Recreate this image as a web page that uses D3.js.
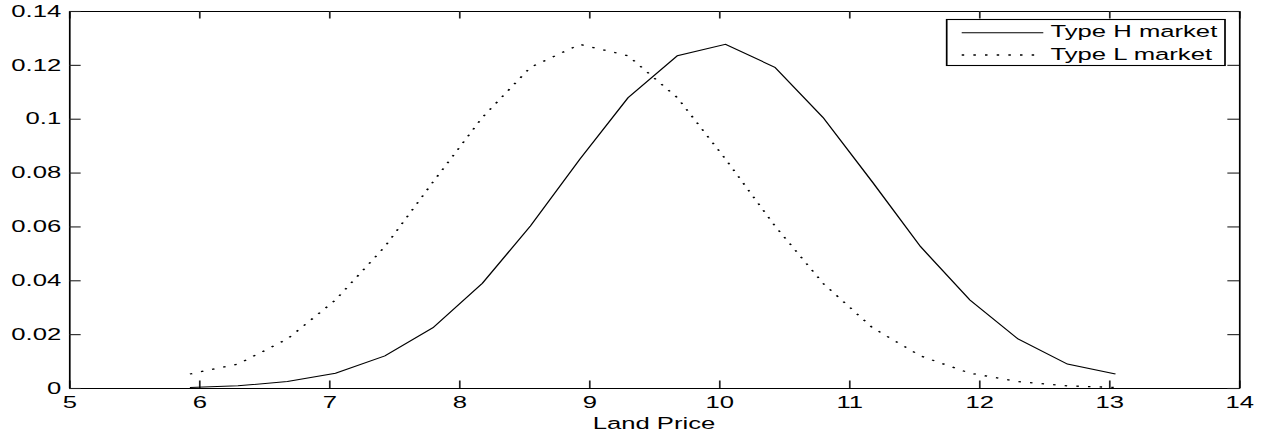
<!DOCTYPE html>
<html>
<head>
<meta charset="utf-8">
<script src="https://cdn.jsdelivr.net/npm/d3@7"></script>
<style>
  html, body { margin: 0; padding: 0; background: #fff; }
  svg { display: block; }
  text { font-family: "Liberation Sans", Arial, Helvetica, sans-serif; }
</style>
</head>
<body>
<svg id="chart" width="1263" height="432"></svg>
<script>
// ---- data ----
const landPrice = [5.93, 6.30, 6.68, 7.05, 7.43, 7.80, 8.18, 8.55, 8.93, 9.30,
                   9.68, 10.05, 10.43, 10.80, 11.18, 11.55, 11.93, 12.30, 12.68, 13.05];
const typeH = [0.0002, 0.0008, 0.0024, 0.0055, 0.0119, 0.0224, 0.0389, 0.0602, 0.0850, 0.1078,
               0.1234, 0.1276, 0.1191, 0.1005, 0.0765, 0.0525, 0.0327, 0.0182, 0.0089, 0.0052];
const typeL = [0.0052, 0.0089, 0.0182, 0.0327, 0.0525, 0.0765, 0.1005, 0.1191, 0.1276, 0.1234,
               0.1078, 0.0850, 0.0602, 0.0389, 0.0224, 0.0119, 0.0055, 0.0024, 0.0008, 0.0002];
const seriesNames = ["Type H market", "Type L market"];
const xTickValues = [5, 6, 7, 8, 9, 10, 11, 12, 13, 14];
const xTickLabels = ["5", "6", "7", "8", "9", "10", "11", "12", "13", "14"];
const yTickValues = [0, 0.02, 0.04, 0.06, 0.08, 0.1, 0.12, 0.14];
const yTickLabels = ["0", "0.02", "0.04", "0.06", "0.08", "0.1", "0.12", "0.14"];
const xLabel = "Land Price";

(function () {
// ---- layout (reference is horizontally stretched; draw in unstretched space) ----
const S = 1.555;               // horizontal stretch factor
const pLeft = 69 / S, pRight = 1239 / S, pTop = 11, pBottom = 388;
const tick = 7.5;
const FS = 16.5;
const dots = "1.6 5.9";

const svg = d3.select("#chart");
const g = svg.append("g").attr("transform", `scale(${S},1)`);

const x = d3.scaleLinear().domain([5, 14]).range([pLeft, pRight]);
const y = d3.scaleLinear().domain([0, 0.14]).range([pBottom, pTop]);

const fmtX = v => xTickLabels[xTickValues.indexOf(v)];
const fmtY = v => yTickLabels[yTickValues.indexOf(v)];

function styleAxis(sel) {
  sel.select(".domain").attr("stroke", "#000").attr("stroke-width", 1.1).attr("fill", "none");
  sel.selectAll(".tick line").attr("stroke", "#222").attr("stroke-width", 1.1);
  sel.selectAll("text").attr("fill", "#000").attr("font-size", FS)
     .attr("font-family", '"Liberation Sans", Arial, sans-serif');
}

g.append("g").attr("transform", `translate(0,${pBottom})`)
  .call(d3.axisBottom(x).tickValues(xTickValues).tickFormat(fmtX)
        .tickSizeInner(-tick).tickSizeOuter(0).tickPadding(8.5))
  .call(styleAxis);
g.append("g").attr("transform", `translate(0,${pTop})`)
  .call(d3.axisTop(x).tickValues(xTickValues).tickFormat("")
        .tickSizeInner(-tick).tickSizeOuter(0))
  .call(styleAxis);
g.append("g").attr("transform", `translate(${pLeft},0)`)
  .call(d3.axisLeft(y).tickValues(yTickValues).tickFormat(fmtY)
        .tickSizeInner(-tick).tickSizeOuter(0).tickPadding(5))
  .call(styleAxis);
g.append("g").attr("transform", `translate(${pRight},0)`)
  .call(d3.axisRight(y).tickValues(yTickValues).tickFormat("")
        .tickSizeInner(-tick).tickSizeOuter(0))
  .call(styleAxis);

// x label
g.append("text")
  .attr("x", (pLeft + pRight) / 2).attr("y", 429.5)
  .attr("text-anchor", "middle").attr("font-size", FS).attr("fill", "#000")
  .text(xLabel);

// lines
const line = d3.line().x(d => x(d[0])).y(d => y(d[1]));
const dH = landPrice.map((v, i) => [v, typeH[i]]);
const dL = landPrice.map((v, i) => [v, typeL[i]]);

g.append("path").datum(dH).attr("d", line)
  .attr("fill", "none").attr("stroke", "#000").attr("stroke-width", 1);
g.append("path").datum(dL).attr("d", line)
  .attr("fill", "none").attr("stroke", "#000").attr("stroke-width", 1.3)
  .attr("stroke-dasharray", dots);

// legend
const lgX0 = 946.7 / S, lgX1 = 1225 / S, lgY0 = 19.5, lgY1 = 65.5;
const leg = g.append("g");
leg.append("rect").attr("x", lgX0).attr("y", lgY0)
  .attr("width", lgX1 - lgX0).attr("height", lgY1 - lgY0)
  .attr("fill", "#fff").attr("stroke", "#000").attr("stroke-width", 1.1);
const rows = [32.7, 55];
const styles = [null, dots];
seriesNames.forEach((name, i) => {
  const l = leg.append("line")
    .attr("x1", 961.7 / S).attr("x2", 1043.3 / S)
    .attr("y1", rows[i]).attr("y2", rows[i])
    .attr("stroke", "#000").attr("stroke-width", 1);
  if (styles[i]) l.attr("stroke-dasharray", styles[i]).attr("stroke-width", 1.3);
  leg.append("text").attr("x", 1050.5 / S).attr("y", rows[i] + 4.7)
    .attr("font-size", FS).attr("fill", "#000").text(name);
});
})();
</script>
</body>
</html>
